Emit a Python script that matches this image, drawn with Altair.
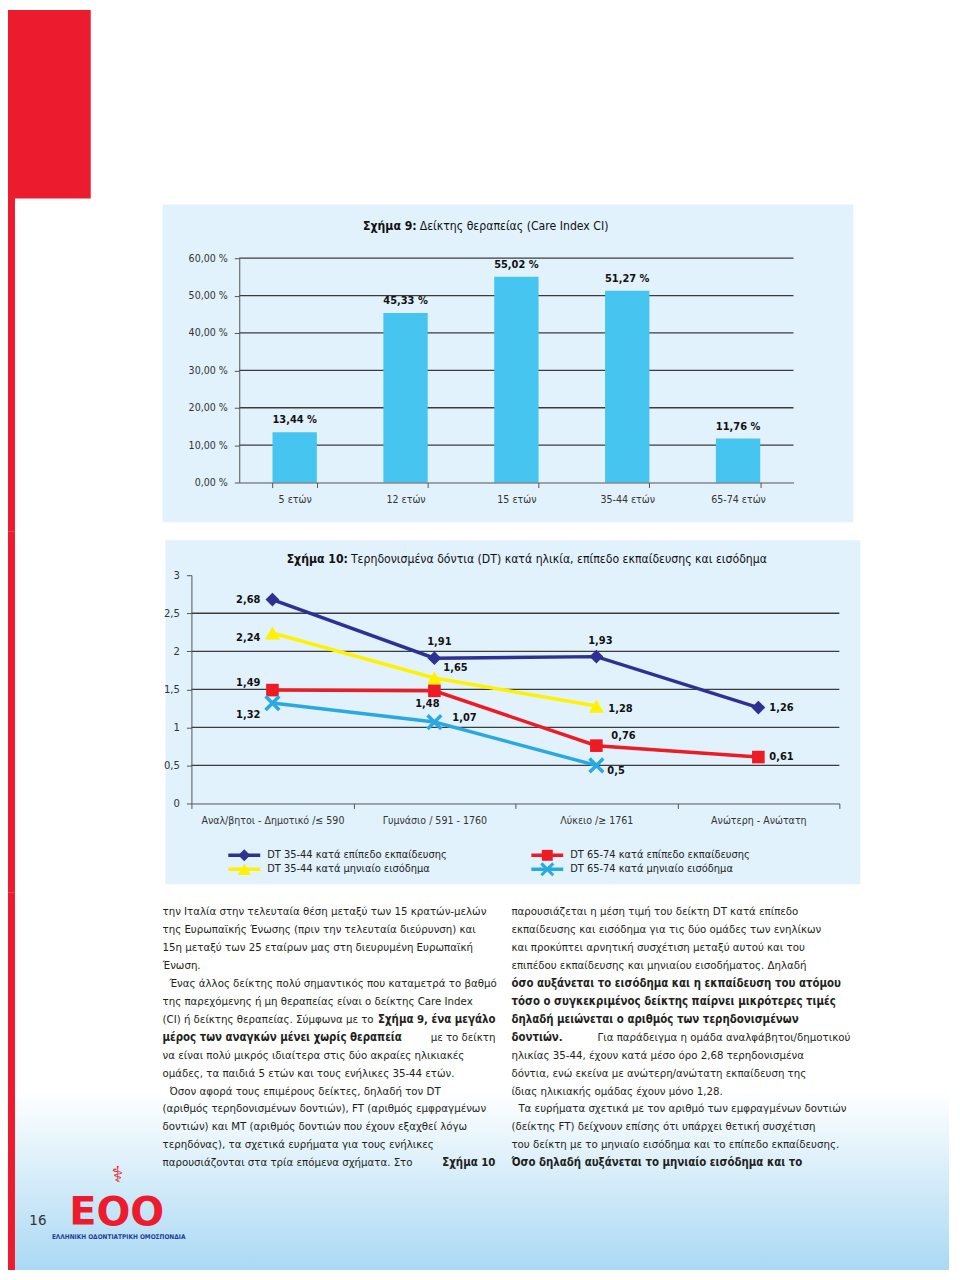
import altair as alt
import pandas as pd

# ---------------- data ----------------
CI_CATS = ["5 ετών", "12 ετών", "15 ετών", "35-44 ετών", "65-74 ετών"]
CI_VALUES = [13.44, 45.33, 55.02, 51.27, 11.76]
CI_TICKS = [0, 10, 20, 30, 40, 50, 60]

DT_CATS = ["Αναλ/βητοι - Δημοτικό /≤ 590", "Γυμνάσιο / 591 - 1760",
           "Λύκειο /≥ 1761", "Ανώτερη - Ανώτατη"]
DT_SERIES = ["DT 35-44 κατά επίπεδο εκπαίδευσης", "DT 35-44 κατά μηνιαίο εισόδημα",
             "DT 65-74 κατά επίπεδο εκπαίδευσης", "DT 65-74 κατά μηνιαίο εισόδημα"]
DT_EDU_3544 = [2.68, 1.91, 1.93, 1.26]
DT_INC_3544 = [2.24, 1.65, 1.28, None]
DT_EDU_6574 = [1.49, 1.48, 0.76, 0.61]
DT_INC_6574 = [1.32, 1.07, 0.5, None]
DT_TICKS = [0, 0.5, 1, 1.5, 2, 2.5, 3]
DT_GRID = [0.5, 1, 1.5, 2, 2.5]

TITLE9_B = "Σχήμα 9:"
TITLE9_R = "Δείκτης θεραπείας (Care Index CI)"
TITLE10_B = "Σχήμα 10:"
TITLE10_R = "Τερηδονισμένα δόντια (DT) κατά ηλικία, επίπεδο εκπαίδευσης και εισόδημα"

LEFT_LINES = [
    (False, [("την Ιταλία στην τελευταία θέση μεταξύ των 15 κρατών-μελών", False)]),
    (False, [("της Ευρωπαϊκής Ένωσης (πριν την τελευταία διεύρυνση) και", False)]),
    (False, [("15η μεταξύ των 25 εταίρων μας στη διευρυμένη Ευρωπαϊκή", False)]),
    (False, [("Ένωση.", False)]),
    (True, [("Ένας άλλος δείκτης πολύ σημαντικός που καταμετρά το βαθμό", False)]),
    (False, [("της παρεχόμενης ή μη θεραπείας είναι ο δείκτης Care Index", False)]),
    (False, [("(CI) ή δείκτης θεραπείας. Σύμφωνα με το", False), ("Σχήμα 9, ένα μεγάλο", True)]),
    (False, [("μέρος των αναγκών μένει χωρίς θεραπεία", True), ("με το δείκτη", False)]),
    (False, [("να είναι πολύ μικρός ιδιαίτερα στις δύο ακραίες ηλικιακές", False)]),
    (False, [("ομάδες, τα παιδιά 5 ετών και τους ενήλικες 35-44 ετών.", False)]),
    (True, [("Όσον αφορά τους επιμέρους δείκτες, δηλαδή τον DT", False)]),
    (False, [("(αριθμός τερηδονισμένων δοντιών), FT (αριθμός εμφραγμένων", False)]),
    (False, [("δοντιών) και MT (αριθμός δοντιών που έχουν εξαχθεί λόγω", False)]),
    (False, [("τερηδόνας), τα σχετικά ευρήματα για τους ενήλικες", False)]),
    (False, [("παρουσιάζονται στα τρία επόμενα σχήματα. Στο", False), ("Σχήμα 10", True)]),
]
RIGHT_LINES = [
    (False, [("παρουσιάζεται η μέση τιμή του δείκτη DT κατά επίπεδο", False)]),
    (False, [("εκπαίδευσης και εισόδημα για τις δύο ομάδες των ενηλίκων", False)]),
    (False, [("και προκύπτει αρνητική συσχέτιση μεταξύ αυτού και του", False)]),
    (False, [("επιπέδου εκπαίδευσης και μηνιαίου εισοδήματος. Δηλαδή", False)]),
    (False, [("όσο αυξάνεται το εισόδημα και η εκπαίδευση του ατόμου", True)]),
    (False, [("τόσο ο συγκεκριμένος δείκτης παίρνει μικρότερες τιμές", True)]),
    (False, [("δηλαδή μειώνεται ο αριθμός των τερηδονισμένων", True)]),
    (False, [("δοντιών.", True), ("Για παράδειγμα η ομάδα αναλφάβητοι/δημοτικού", False)]),
    (False, [("ηλικίας 35-44, έχουν κατά μέσο όρο 2,68 τερηδονισμένα", False)]),
    (False, [("δόντια, ενώ εκείνα με ανώτερη/ανώτατη εκπαίδευση της", False)]),
    (False, [("ίδιας ηλικιακής ομάδας έχουν μόνο 1,28.", False)]),
    (True, [("Τα ευρήματα σχετικά με τον αριθμό των εμφραγμένων δοντιών", False)]),
    (False, [("(δείκτης FT) δείχνουν επίσης ότι υπάρχει θετική συσχέτιση", False)]),
    (False, [("του δείκτη με το μηνιαίο εισόδημα και το επίπεδο εκπαίδευσης.", False)]),
    (False, [("Όσο δηλαδή αυξάνεται το μηνιαίο εισόδημα και το", True)]),
]
PAGE_NO = "16"
LOGO = "ΕΟΟ"
LOGO_SUB = "ΕΛΛΗΝΙΚΗ ΟΔΟΝΤΙΑΤΡΙΚΗ ΟΜΟΣΠΟΝΔΙΑ"

# ---------------- styles ----------------
CF = "DejaVu Sans Condensed, Liberation Sans Narrow, sans-serif"
BF = "DejaVu Sans Condensed, Open Sans, sans-serif"
RED = "#ec1c2e"
PANEL = "#e1f2fc"
BAR = "#47c5f1"
GRID = "#3c3c3c"
AX = "#555555"
LBL = "#333333"
TXT = "#231f20"
TICK_FS = 10.6
TITLE_FS = 12.2
VAL_FS = 11
BODY_FS = 11.4
SERIES_COLORS = ["#2e3192", "#fff200", "#ed1c24", "#2aa9e1"]
SERIES_SHAPES = ["diamond", "triangle-up", "square", "M-1,-1L1,1M-1,1L1,-1"]
SERIES_SIZES = [190, 230, 160, 190]
# label placement (dx, dy, align) per series / category
LABEL_PLACE = {
    (0, 0): (-12, 0, "right"), (0, 1): (5, -16, "center"), (0, 2): (4, -16, "center"), (0, 3): (11, 0, "left"),
    (1, 0): (-12, 5, "right"), (1, 1): (9, -10, "left"), (1, 2): (12, 3, "left"),
    (2, 0): (-12, -7, "right"), (2, 1): (-7, 13, "center"), (2, 2): (15, -10, "left"), (2, 3): (11, 0, "left"),
    (3, 0): (-12, 12, "right"), (3, 1): (18, -4, "left"), (3, 2): (11, 6, "left"),
}

ONE = pd.DataFrame({"k": [0]})
STRIP_W = 155
MAIN_W = 789
H9, H10, HT = 523, 362, 379


def rect(x, x2, y, y2, color):
    return alt.Chart(ONE).mark_rect(color=color).encode(
        x=alt.value(x), x2=alt.value(x2), y=alt.value(y), y2=alt.value(y2))


def txt(text, x, y, size, weight="normal", align="left", color=TXT, font=CF):
    return alt.Chart(ONE).mark_text(text=text, align=align, baseline="middle", fontSize=size,
                                    fontWeight=weight, color=color, font=font).encode(
        x=alt.value(x), y=alt.value(y))


def fmt_dec(v):
    s = f"{v:.2f}".rstrip("0").rstrip(".")
    return s.replace(".", ",")


# ---------------- left strip pieces ----------------
strip1 = alt.layer(rect(0, 83, 0, 189, RED), rect(0, 7, 0, H9, RED)).properties(width=STRIP_W, height=H9)
strip2 = alt.layer(rect(0, 7, 0, H10, RED)).properties(width=STRIP_W, height=H10)

# ---------------- chart 9 ----------------
ci_df = pd.DataFrame({"cat": CI_CATS, "v": CI_VALUES,
                      "lbl": [f"{v:.2f} %".replace(".", ",") for v in CI_VALUES]})
x9s = alt.Scale(domain=CI_CATS, range=[77, 633], paddingInner=0.6, paddingOuter=0.3)
y9s = alt.Scale(domain=[0, 60], range=[474, 249], nice=False)
x9 = alt.X("cat:N", sort=CI_CATS, scale=x9s, title=None,
           axis=alt.Axis(orient="bottom", offset=-(H9 - 474), tickBand="extent", grid=False,
                         domainColor=AX, tickColor=AX, tickSize=5, labelAngle=0,
                         labelFontSize=TICK_FS, labelColor=LBL, labelFont=CF, labelPadding=7, zindex=1))
y9 = alt.Y("v:Q", scale=y9s, title=None,
           axis=alt.Axis(offset=-77, values=CI_TICKS, grid=False,
                         labelExpr="replace(format(datum.value, '.2f'), '.', ',') + ' %'",
                         domainColor=AX, tickColor=AX, tickSize=5,
                         labelFontSize=TICK_FS, labelColor=LBL, labelFont=CF, labelPadding=7, zindex=1))

panel9 = rect(0, 693, 195, 514, PANEL)
grid9 = alt.Chart(pd.DataFrame({"v": CI_TICKS[1:]})).mark_rule(color=GRID, strokeWidth=1.3).encode(
    y=alt.Y("v:Q", scale=y9s), x=alt.value(77), x2=alt.value(633))
bars9 = alt.Chart(ci_df).mark_bar(color=BAR).encode(x=x9, y=y9)
lbl9 = alt.Chart(ci_df).mark_text(dy=-12, fontWeight="bold", fontSize=VAL_FS, font=CF, color="#111").encode(
    x=alt.X("cat:N", sort=CI_CATS, scale=x9s), y=alt.Y("v:Q", scale=y9s), text="lbl:N")
title9 = alt.layer(txt(TITLE9_B, 255, 217, TITLE_FS, "bold", "right", "#111"),
                   txt(TITLE9_R, 258, 217, TITLE_FS, "normal", "left", "#111"))
chart9 = alt.layer(panel9, grid9, bars9, lbl9, title9).properties(width=MAIN_W, height=H9)

# ---------------- chart 10 ----------------
series_vals = [DT_EDU_3544, DT_INC_3544, DT_EDU_6574, DT_INC_6574]
rows = []
for si, (s, vals) in enumerate(zip(DT_SERIES, series_vals)):
    for ci, (c, v) in enumerate(zip(DT_CATS, vals)):
        if v is not None:
            rows.append({"series": s, "si": si, "ci": ci, "cat": c, "v": v, "lbl": fmt_dec(v)})
dt_df = pd.DataFrame(rows)

x10s = alt.Scale(domain=DT_CATS, range=[26, 676], paddingInner=0, paddingOuter=0)
y10s = alt.Scale(domain=[0, 3], range=[273, 44], nice=False)
x10 = alt.X("cat:N", sort=DT_CATS, scale=x10s, title=None,
            axis=alt.Axis(orient="bottom", offset=-(H10 - 273), tickBand="extent", grid=False,
                          domainColor=AX, tickColor=AX, tickSize=5, labelAngle=0,
                          labelFontSize=TICK_FS, labelColor=LBL, labelFont=CF, labelPadding=7, zindex=1))
y10 = alt.Y("v:Q", scale=y10s, title=None,
            axis=alt.Axis(offset=-26, values=DT_TICKS, grid=False,
                          labelExpr="replace(format(datum.value, '~g'), '.', ',')",
                          domainColor=AX, tickColor=AX, tickSize=5,
                          labelFontSize=TICK_FS + 0.6, labelColor=LBL, labelFont=CF, labelPadding=7, zindex=1))

panel10 = rect(0, 697, 9, 354, PANEL)
grid10 = alt.Chart(pd.DataFrame({"v": DT_GRID})).mark_rule(color=GRID, strokeWidth=1.3).encode(
    y=alt.Y("v:Q", scale=y10s), x=alt.value(26), x2=alt.value(676))
layers10 = [panel10, grid10]
for si, s in enumerate(DT_SERIES):
    sd = dt_df[dt_df["si"] == si]
    layers10.append(alt.Chart(sd).mark_line(color=SERIES_COLORS[si], strokeWidth=3.5).encode(
        x=x10, y=y10))
for si, s in enumerate(DT_SERIES):
    sd = dt_df[dt_df["si"] == si]
    filled = si != 3
    layers10.append(alt.Chart(sd).mark_point(shape=SERIES_SHAPES[si], size=SERIES_SIZES[si],
                                             filled=filled, opacity=1, color=SERIES_COLORS[si],
                                             strokeWidth=3.5 if not filled else 1).encode(
        x=alt.X("cat:N", sort=DT_CATS, scale=x10s), y=alt.Y("v:Q", scale=y10s)))
for (si, ci), (dx, dy, al) in LABEL_PLACE.items():
    sd = dt_df[(dt_df["si"] == si) & (dt_df["ci"] == ci)]
    layers10.append(alt.Chart(sd).mark_text(dx=dx, dy=dy, align=al, baseline="middle", fontWeight="bold",
                                            fontSize=VAL_FS, font=CF, color="#111").encode(
        x=alt.X("cat:N", sort=DT_CATS, scale=x10s), y=alt.Y("v:Q", scale=y10s), text="lbl:N"))
# legend
LEG_POS = [(63, 325), (63, 339), (367, 325), (367, 339)]
for si, s in enumerate(DT_SERIES):
    lx, ly = LEG_POS[si]
    layers10.append(alt.Chart(ONE).mark_rule(color=SERIES_COLORS[si], strokeWidth=3.5).encode(
        x=alt.value(lx), x2=alt.value(lx + 32), y=alt.value(ly)))
    filled = si != 3
    layers10.append(alt.Chart(ONE).mark_point(shape=SERIES_SHAPES[si], size=SERIES_SIZES[si] * 0.75,
                                              filled=filled, opacity=1, color=SERIES_COLORS[si],
                                              strokeWidth=3 if not filled else 1).encode(
        x=alt.value(lx + 16), y=alt.value(ly)))
    layers10.append(txt(s, lx + 39, ly, 11, "normal", "left", "#222"))
layers10.append(txt(TITLE10_B, 183, 28, TITLE_FS, "bold", "right", "#111"))
layers10.append(txt(TITLE10_R, 186, 28, TITLE_FS, "normal", "left", "#111"))
chart10 = alt.layer(*layers10).properties(width=MAIN_W, height=H10)

# ---------------- text row ----------------
grad = alt.Chart(ONE).mark_rect(color=alt.LinearGradient(
    gradient="linear", x1=0, x2=0, y1=0, y2=1,
    stops=[alt.GradientStop(color="#ffffff", offset=0), alt.GradientStop(color="#aad9f4", offset=1)])).encode(
    x=alt.value(7), x2=alt.value(STRIP_W + MAIN_W), y=alt.value(200), y2=alt.value(HT))
tlayers = [grad, rect(0, 7, 0, HT, RED)]


def add_column(lines, x0, xr):
    for i, (indent, segs) in enumerate(lines):
        y = 20 + 18 * i
        if len(segs) == 1:
            t, b = segs[0]
            tlayers.append(txt(t, x0 + (7 if indent else 0), y, BODY_FS, "bold" if b else "normal", "left", TXT, BF))
        else:
            (t1, b1), (t2, b2) = segs
            tlayers.append(txt(t1, x0, y, BODY_FS, "bold" if b1 else "normal", "left", TXT, BF))
            tlayers.append(txt(t2, xr, y, BODY_FS, "bold" if b2 else "normal", "right", TXT, BF))


add_column(LEFT_LINES, 155, 489)
add_column(RIGHT_LINES, 505, 845)
tlayers.append(txt(PAGE_NO, 30, 329, 15, "normal", "center", "#333", BF))
tlayers.append(txt("⚕", 110, 284, 22, "normal", "center", RED, "DejaVu Sans"))
tlayers.append(txt(LOGO, 109, 322, 40, "bold", "center", RED, "DejaVu Sans"))
tlayers.append(txt(LOGO_SUB, 111, 346, 6.5, "bold", "center", "#1f3f95", CF))
text_row = alt.layer(*tlayers).properties(width=STRIP_W + MAIN_W, height=HT)

# ---------------- page ----------------
row1 = alt.hconcat(strip1, chart9, spacing=0)
row2 = alt.hconcat(strip2, chart10, spacing=0)
chart = alt.vconcat(row1, row2, text_row, spacing=0).properties(
    padding=0, background="white").configure_view(stroke=None).configure_concat(spacing=0)

chart.save("out.html", embed_options={"renderer": "svg", "actions": False})
